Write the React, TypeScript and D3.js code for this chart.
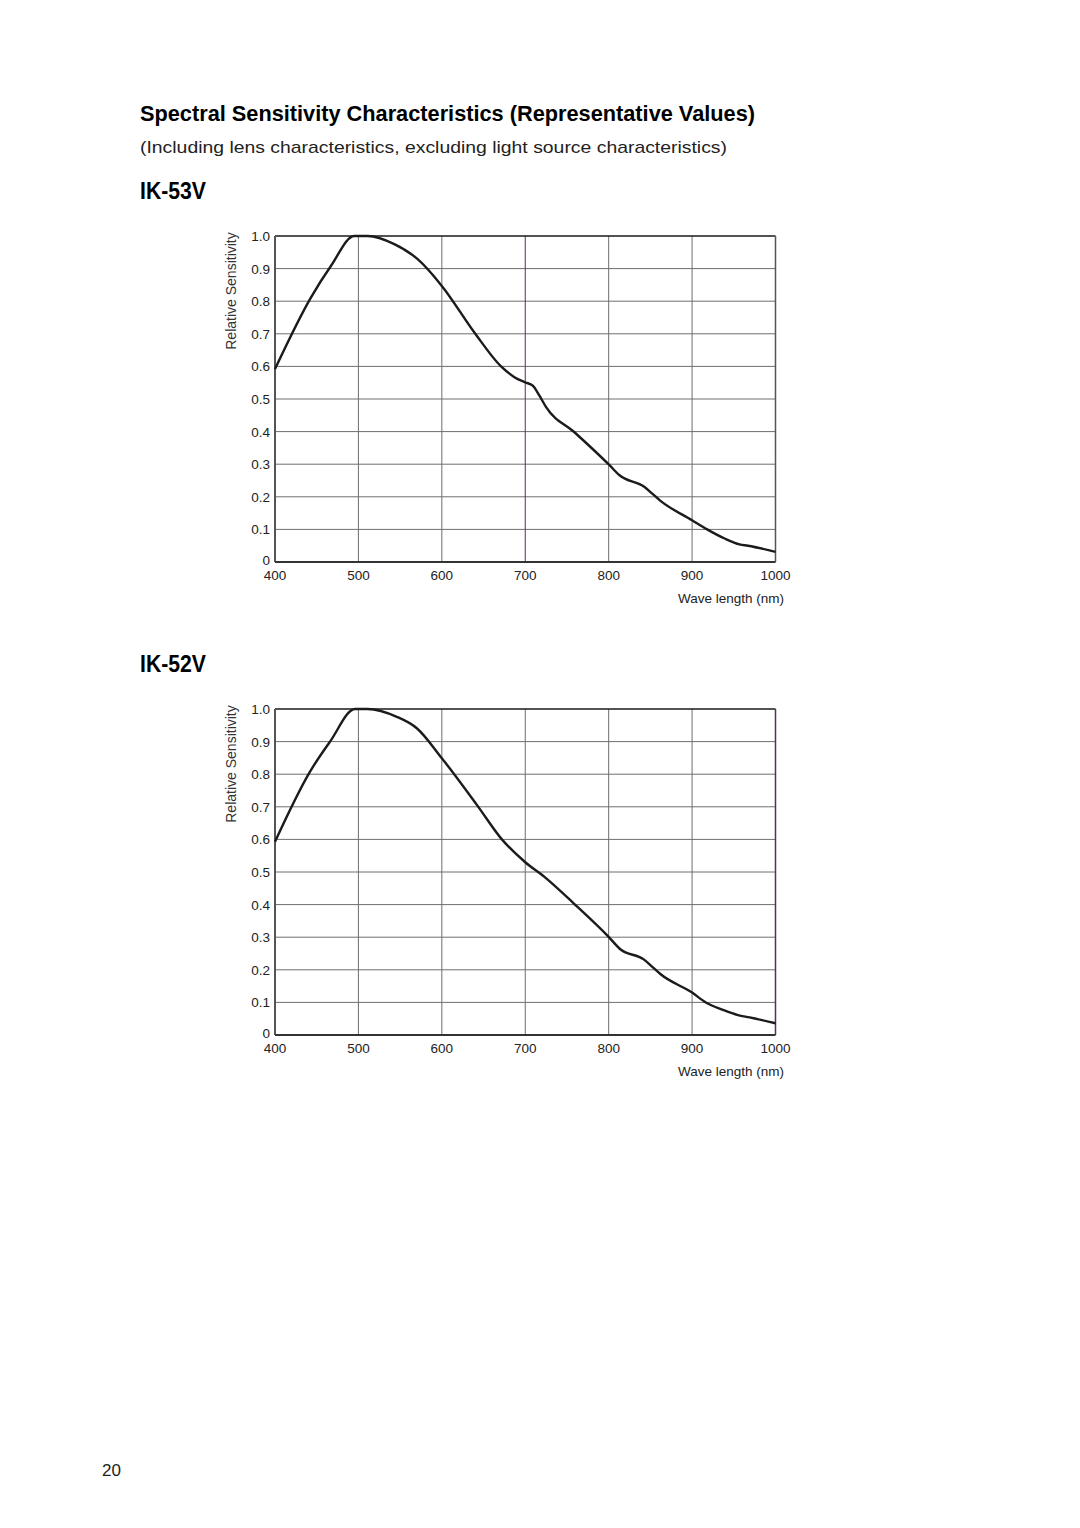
import React from 'react';
import * as d3 from 'd3';

const xTicks = [400, 500, 600, 700, 800, 900, 1000];
const yTicks = [0, 0.1, 0.2, 0.3, 0.4, 0.5, 0.6, 0.7, 0.8, 0.9, 1.0];
const yTickLabels = ['0', '0.1', '0.2', '0.3', '0.4', '0.5', '0.6', '0.7', '0.8', '0.9', '1.0'];

// IK-53V
const wave53 = [400, 443, 467, 495, 511, 543, 571, 600, 639, 671, 687, 700, 709, 717, 725, 759, 801, 813, 843, 853, 861, 900, 918, 939, 957, 967, 1000];
const sens53 = [0.592, 0.811, 0.908, 1.0, 1.0, 0.975, 0.929, 0.847, 0.704, 0.6, 0.567, 0.551, 0.541, 0.51, 0.475, 0.398, 0.297, 0.266, 0.23, 0.208, 0.19, 0.128, 0.1, 0.072, 0.054, 0.05, 0.031];

// IK-52V
const wave52 = [400, 442, 466, 496, 511, 546, 570, 600, 642, 672, 700, 723, 758, 800, 814, 842, 852, 862, 900, 917, 937, 955, 969, 1000];
const sens52 = [0.593, 0.808, 0.9, 1.0, 1.0, 0.976, 0.941, 0.849, 0.706, 0.6, 0.53, 0.485, 0.404, 0.301, 0.263, 0.232, 0.21, 0.187, 0.13, 0.099, 0.077, 0.061, 0.054, 0.036];

const font = '"Liberation Sans", Arial, sans-serif';

const Chart = ({ top, name, waves, values, accent }) => {
  const left = 275;
  const right = 775.5;
  const height = 326;
  const x = d3.scaleLinear().domain([400, 1000]).range([left, right]);
  const y = d3.scaleLinear().domain([0, 1]).range([top + height, top]);
  const line = d3
    .line<number>()
    .x((d, i) => x(waves[i]))
    .y((d) => y(d))
    .curve(d3.curveMonotoneX);

  return (
    <g>
      <text x={140} y={top - 37} fontFamily={font} fontWeight="bold" fontSize={23} textLength={66} lengthAdjust="spacingAndGlyphs">
        {name}
      </text>
      {/* grid */}
      {yTicks.slice(1, -1).map((t) => (
        <line key={'h' + t} x1={left} x2={right} y1={y(t)} y2={y(t)} stroke="#6e6e6e" strokeWidth={1} />
      ))}
      {xTicks.slice(1, -1).map((t) => (
        <line key={'v' + t} x1={x(t)} x2={x(t)} y1={top} y2={top + height} stroke={accent.grid === t ? '#5a2d5a' : '#6e6e6e'} strokeWidth={1} />
      ))}
      {/* frame */}
      <line x1={left} x2={right} y1={top} y2={top} stroke="#1a1a1a" strokeWidth={1.5} />
      <line x1={right} x2={right} y1={top} y2={top + height} stroke={accent.right ? '#5a2d5a' : '#555'} strokeWidth={1.5} />
      <line x1={left} x2={left} y1={top} y2={top + height} stroke="#555" strokeWidth={2} />
      <line x1={left} x2={right} y1={top + height} y2={top + height} stroke="#333" strokeWidth={2} />
      {/* curve */}
      <path d={line(values) || ''} fill="none" stroke="#1c1a1a" strokeWidth={2.4} strokeLinejoin="round" />
      {/* y labels */}
      {yTicks.map((t, i) => (
        <text key={'yl' + t} x={270} y={y(t) + (t === 0 ? 3 : 5)} fontFamily={font} fontSize={13.5} textAnchor="end" fill="#222">
          {yTickLabels[i]}
        </text>
      ))}
      {/* x labels */}
      {xTicks.map((t) => (
        <text key={'xl' + t} x={x(t)} y={top + height + 18} fontFamily={font} fontSize={13.5} textAnchor="middle" fill="#222">
          {t}
        </text>
      ))}
      <text x={784} y={top + height + 41} fontFamily={font} fontSize={13.5} textAnchor="end" fill="#222">
        Wave length (nm)
      </text>
      <text
        transform={`translate(236,${top + 55}) rotate(-90)`}
        fontFamily={font}
        fontSize={14}
        textAnchor="middle"
        fill="#333"
      >
        Relative Sensitivity
      </text>
    </g>
  );
};

export default function App() {
  return (
    <svg width={1080} height={1528} style={{ position: 'absolute', left: 0, top: 0, background: '#fff' }}>
      <rect width={1080} height={1528} fill="#fff" />
      <text x={140} y={121} fontFamily={font} fontWeight="bold" fontSize={22} textLength={615} lengthAdjust="spacingAndGlyphs">
        Spectral Sensitivity Characteristics (Representative Values)
      </text>
      <text x={140} y={153} fontFamily={font} fontSize={17} textLength={587} lengthAdjust="spacingAndGlyphs" fill="#222">
        (Including lens characteristics, excluding light source characteristics)
      </text>
      <Chart top={236} name="IK-53V" waves={wave53} values={sens53} accent={{ grid: 700, right: false }} />
      <Chart top={709} name="IK-52V" waves={wave52} values={sens52} accent={{ grid: 0, right: true }} />
      <text x={102} y={1476} fontFamily={font} fontSize={17} fill="#222">
        20
      </text>
    </svg>
  );
}
